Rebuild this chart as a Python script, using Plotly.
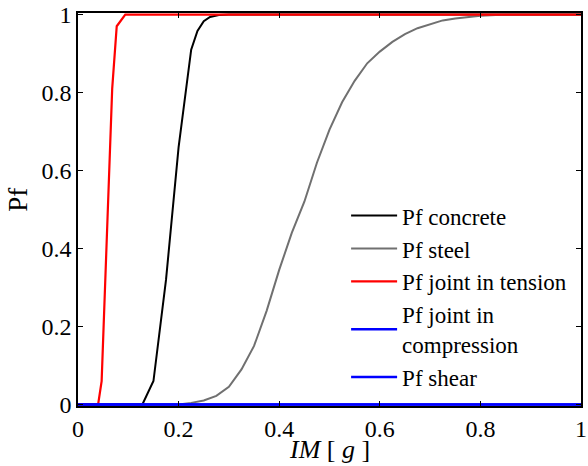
import plotly.graph_objects as go

# Fragility curves: probability of failure vs intensity measure (g)
im_concrete = [0.0, 0.10, 0.128, 0.15, 0.175, 0.20, 0.225, 0.2375, 0.25, 0.2625, 0.28, 0.30, 1.0]
pf_concrete = [0.0, 0.0, 0.0, 0.06, 0.32, 0.66, 0.91, 0.958, 0.983, 0.994, 0.999, 1.0, 1.0]

im_steel = [0.0, 0.20, 0.225, 0.25, 0.275, 0.30, 0.325, 0.35, 0.375, 0.40, 0.425,
            0.45, 0.475, 0.50, 0.525, 0.55, 0.575, 0.60, 0.625, 0.65, 0.675,
            0.70, 0.725, 0.75, 0.80, 0.85, 1.0]
pf_steel = [0.0, 0.0, 0.004, 0.01, 0.022, 0.045, 0.09, 0.15, 0.24, 0.345, 0.44,
            0.52, 0.62, 0.705, 0.775, 0.83, 0.875, 0.905, 0.93, 0.95, 0.965,
            0.975, 0.985, 0.99, 0.997, 1.0, 1.0]

im_tension = [0.0, 0.03, 0.04, 0.047, 0.068, 0.077, 0.094, 1.0]
pf_tension = [0.0, 0.0, 0.0, 0.06, 0.81, 0.97, 1.0, 1.0]

im_compression = [0.0, 1.0]
pf_compression = [0.0, 0.0]

im_shear = [0.0, 1.0]
pf_shear = [0.0, 0.0]

x_ticks = [0, 0.2, 0.4, 0.6, 0.8, 1]
x_tick_text = ["0", "0.2", "0.4", "0.6", "0.8", "1"]
y_ticks = [0, 0.2, 0.4, 0.6, 0.8, 1]
y_tick_text = ["0", "0.2", "0.4", "0.6", "0.8", "1"]

FONT = "Times New Roman, Liberation Serif, serif"

fig = go.Figure()
fig.add_trace(go.Scatter(x=im_concrete, y=pf_concrete, mode="lines",
                         name="Pf concrete", line=dict(color="black", width=2)))
fig.add_trace(go.Scatter(x=im_steel, y=pf_steel, mode="lines",
                         name="Pf steel", line=dict(color="#707070", width=2)))
fig.add_trace(go.Scatter(x=im_tension, y=pf_tension, mode="lines",
                         name="Pf joint in tension", line=dict(color="#ff0000", width=2.2)))
fig.add_trace(go.Scatter(x=im_compression, y=pf_compression, mode="lines",
                         name="Pf joint in<br>compression", line=dict(color="#0000ff", width=2.5)))
fig.add_trace(go.Scatter(x=im_shear, y=pf_shear, mode="lines",
                         name="Pf shear", line=dict(color="#0000ff", width=2.5)))

axis_common = dict(
    showgrid=False, zeroline=False, showline=True, linecolor="black", linewidth=1.5,
    mirror="allticks", ticks="inside", ticklen=5, tickwidth=1, tickcolor="black",
    tickfont=dict(family=FONT, size=24, color="black"), automargin=False,
    ticklabeloverflow="allow",
)

fig.update_xaxes(range=[0, 1], tickvals=x_ticks, ticktext=x_tick_text, **axis_common)
fig.update_yaxes(range=[-0.004, 1.004], tickvals=y_ticks, ticktext=y_tick_text, **axis_common)

# Axis titles placed as paper-anchored text
fig.add_annotation(text="<i>IM</i> [ <i>g</i> ]", xref="paper", yref="paper",
                   x=0.5, y=-0.11, xanchor="center", yanchor="middle",
                   showarrow=False, font=dict(family=FONT, size=26, color="black"))
fig.add_annotation(text="Pf", textangle=-90, xref="paper", yref="paper",
                   x=-0.12, y=0.524, xanchor="center", yanchor="middle",
                   showarrow=False, font=dict(family=FONT, size=27, color="black"))

fig.update_layout(
    width=588, height=466,
    margin=dict(l=78, r=7, t=13, b=60),
    paper_bgcolor="white", plot_bgcolor="white",
    font=dict(family=FONT, size=24, color="black"),
    showlegend=True,
    legend=dict(x=0.533, y=0.539, xanchor="left", yanchor="top",
                bgcolor="rgba(0,0,0,0)", borderwidth=0,
                font=dict(family=FONT, size=23, color="black"),
                tracegroupgap=0, itemwidth=46),
)

fig.write_html("out.html")
